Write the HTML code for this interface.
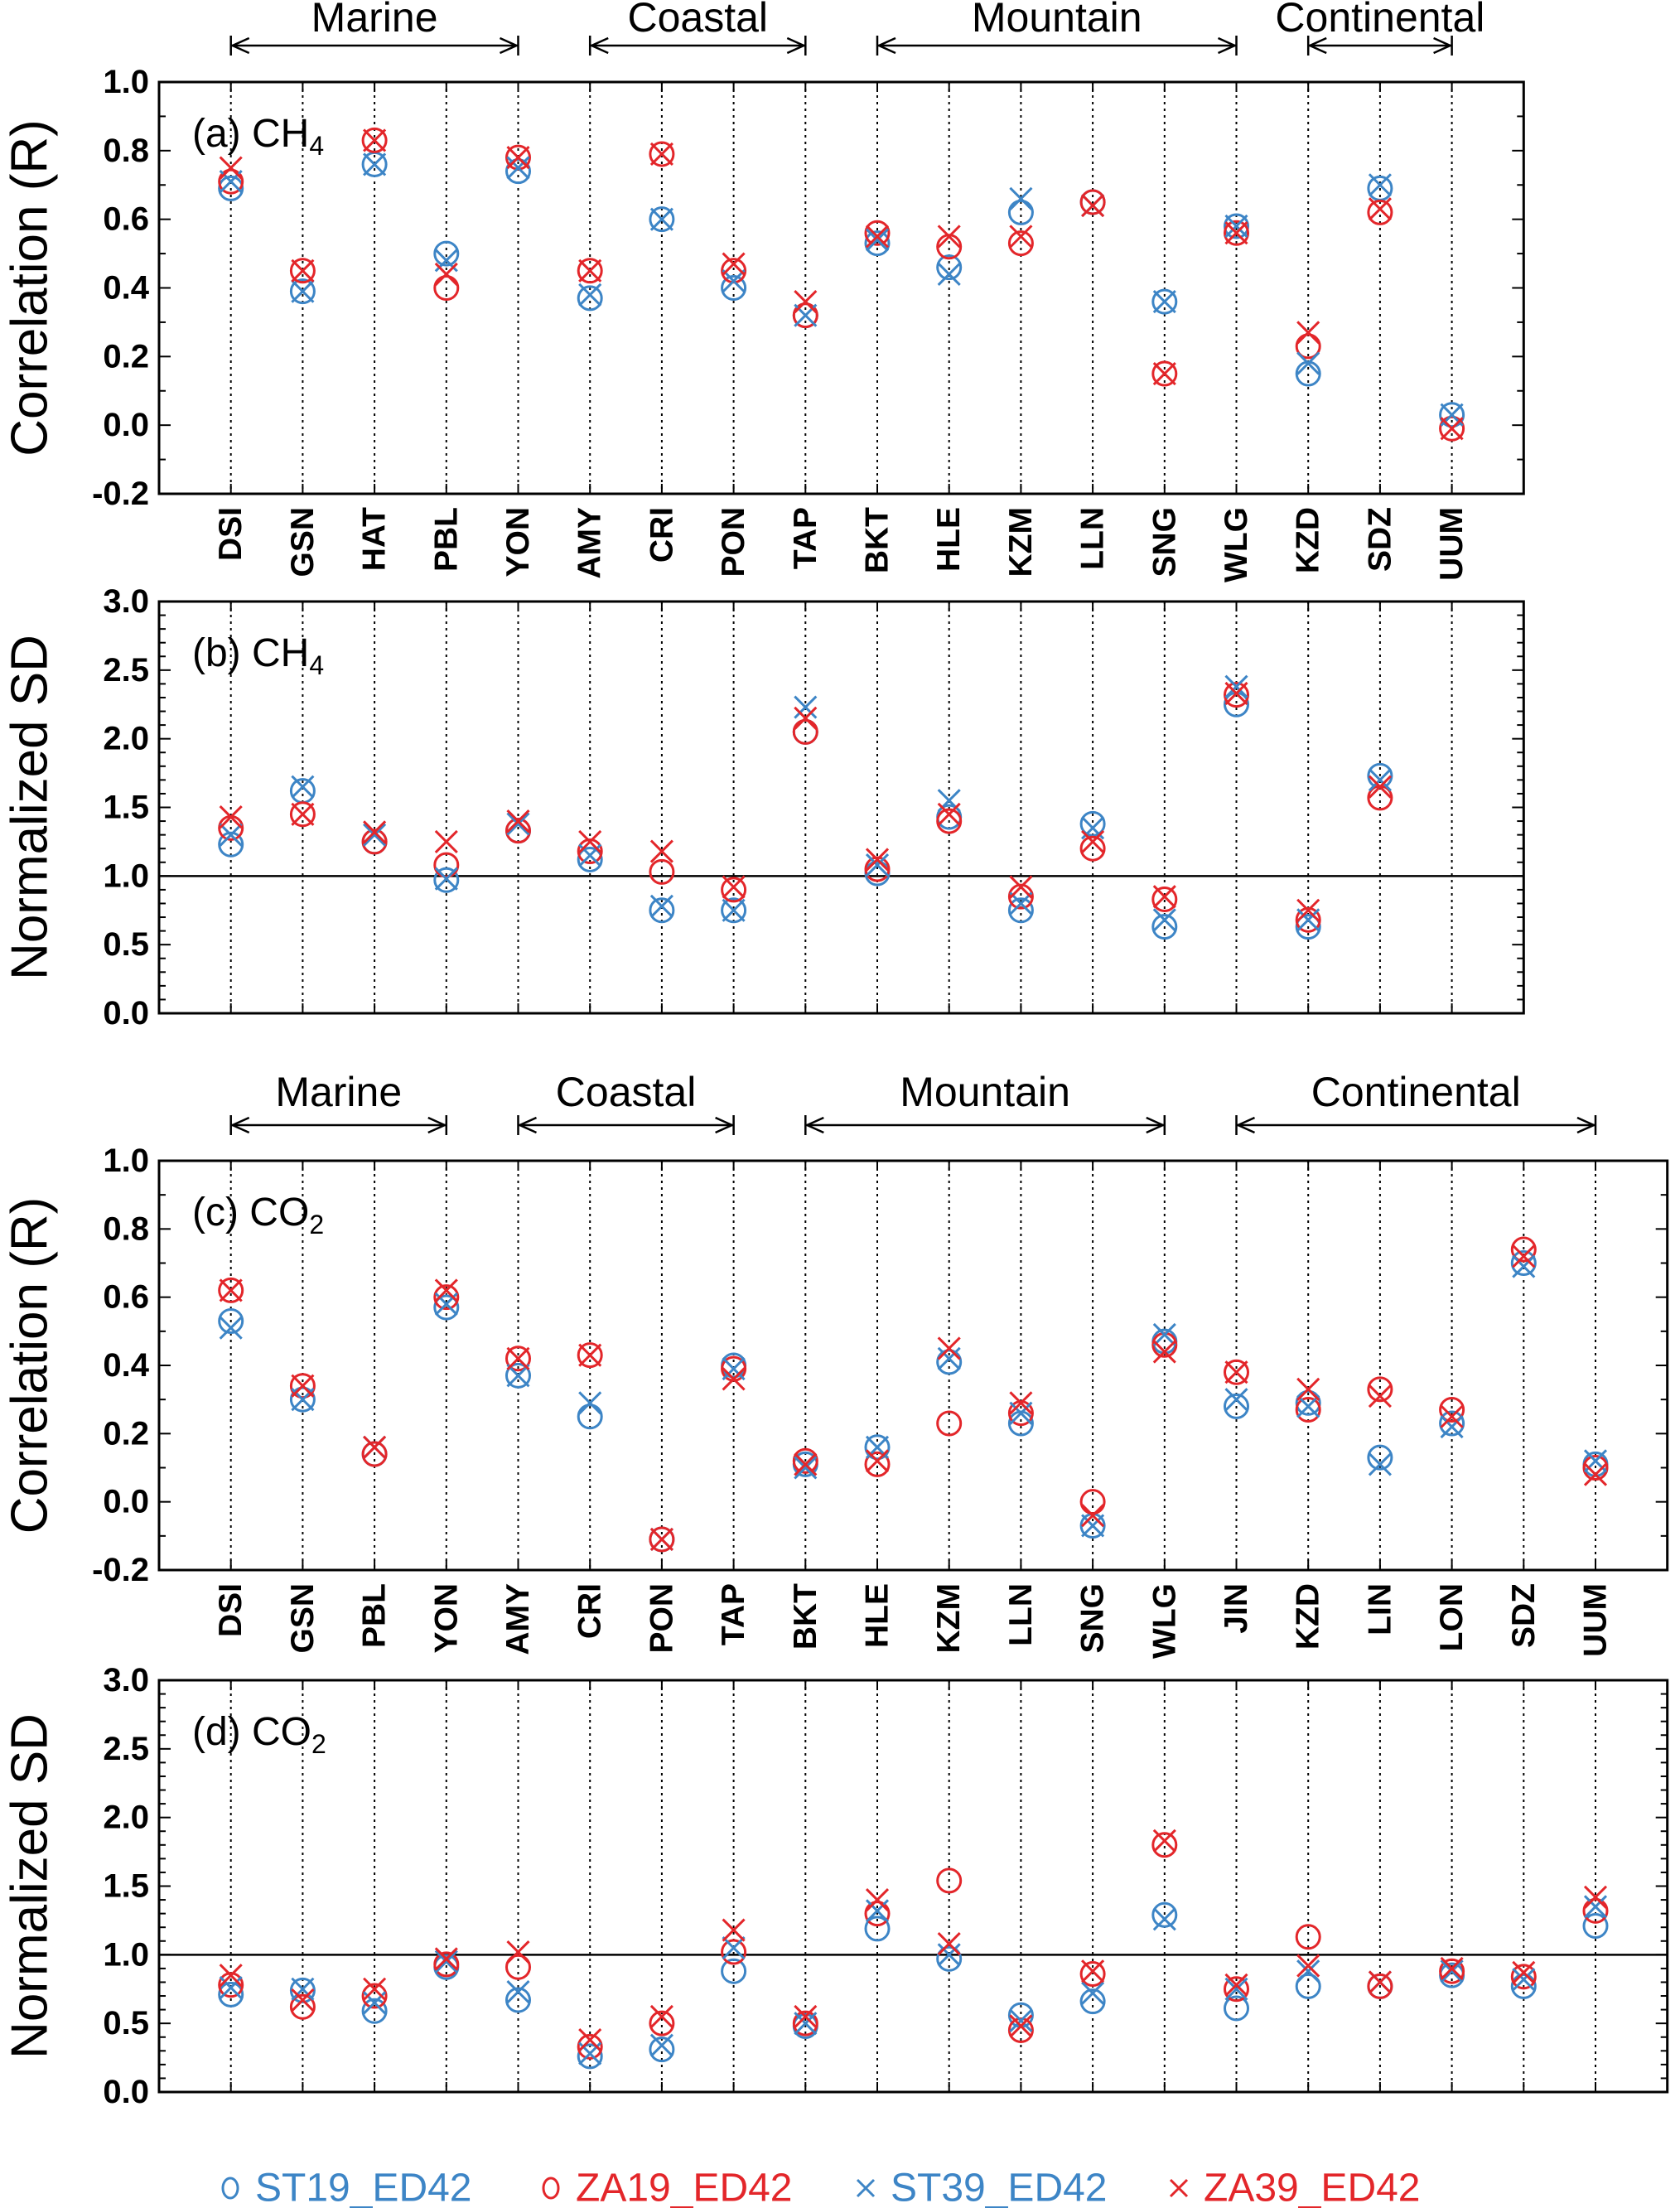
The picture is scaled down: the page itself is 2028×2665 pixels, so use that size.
<!DOCTYPE html>
<html><head><meta charset="utf-8">
<style>
html,body{margin:0;padding:0;background:#fff;}
svg{display:block;}
</style></head>
<body>
<svg id="chart" width="2028" height="2665" viewBox="0 0 2028 2665" xmlns="http://www.w3.org/2000/svg"></svg>
<script>
// ---------- data ----------
const stationsCH4 = ["DSI","GSN","HAT","PBL","YON","AMY","CRI","PON","TAP","BKT","HLE","KZM","LLN","SNG","WLG","KZD","SDZ","UUM"];
const stationsCO2 = ["DSI","GSN","PBL","YON","AMY","CRI","PON","TAP","BKT","HLE","KZM","LLN","SNG","WLG","JIN","KZD","LIN","LON","SDZ","UUM"];
const seriesNames = ["ST19_ED42","ZA19_ED42","ST39_ED42","ZA39_ED42"];
// panel (a) CH4 correlation
const aST19 = [0.69,0.39,0.76,0.50,0.74,0.37,0.60,0.40,0.32,0.53,0.46,0.62,0.65,0.36,0.58,0.15,0.69,0.03];
const aZA19 = [0.71,0.45,0.83,0.40,0.78,0.45,0.79,0.45,0.32,0.56,0.52,0.53,0.65,0.15,0.56,0.23,0.62,-0.01];
const aST39 = [0.71,0.39,0.76,0.48,0.75,0.38,0.60,0.42,0.32,0.54,0.44,0.66,0.64,0.36,0.58,0.18,0.70,0.03];
const aZA39 = [0.75,0.45,0.83,0.44,0.78,0.45,0.79,0.47,0.36,0.55,0.55,0.55,0.64,0.15,0.56,0.27,0.63,-0.01];
// panel (b) CH4 normalized SD (UUM missing)
const bST19 = [1.23,1.62,1.25,0.97,1.33,1.12,0.75,0.75,2.05,1.02,1.43,0.75,1.38,0.63,2.25,0.63,1.73,null];
const bZA19 = [1.35,1.45,1.25,1.08,1.33,1.18,1.03,0.90,2.05,1.05,1.40,0.85,1.20,0.83,2.32,0.68,1.57,null];
const bST39 = [1.30,1.65,1.30,0.98,1.38,1.15,0.78,0.75,2.23,1.08,1.55,0.80,1.35,0.68,2.38,0.68,1.70,null];
const bZA39 = [1.43,1.45,1.32,1.25,1.40,1.25,1.18,0.92,2.15,1.12,1.45,0.92,1.25,0.85,2.33,0.75,1.65,null];
// panel (c) CO2 correlation
const cST19 = [0.53,0.30,0.14,0.57,0.37,0.25,-0.11,0.40,0.11,0.16,0.41,0.23,-0.07,0.47,0.28,0.29,0.13,0.23,0.70,0.11];
const cZA19 = [0.62,0.34,0.14,0.60,0.42,0.43,-0.11,0.39,0.12,0.11,0.23,0.26,0.00,0.46,0.38,0.27,0.33,0.27,0.74,0.10];
const cST39 = [0.51,0.30,0.16,0.58,0.37,0.29,-0.11,0.39,0.10,0.16,0.42,0.26,-0.07,0.49,0.30,0.28,0.11,0.22,0.69,0.12];
const cZA39 = [0.62,0.34,0.16,0.62,0.42,0.43,-0.11,0.36,0.11,0.12,0.45,0.29,-0.04,0.44,0.38,0.33,0.31,0.25,0.72,0.08];
// panel (d) CO2 normalized SD
const dST19 = [0.71,0.74,0.59,0.91,0.67,0.26,0.31,0.88,0.48,1.19,0.97,0.56,0.66,1.29,0.61,0.77,0.77,0.85,0.77,1.21];
const dZA19 = [0.78,0.62,0.70,0.93,0.91,0.33,0.50,1.02,0.50,1.30,1.54,0.45,0.86,1.80,0.75,1.13,0.77,0.88,0.84,1.32];
const dST39 = [0.76,0.75,0.65,0.95,0.73,0.28,0.34,1.05,0.50,1.32,1.00,0.52,0.72,1.26,0.75,0.88,0.80,0.88,0.82,1.35];
const dZA39 = [0.85,0.67,0.75,0.97,1.02,0.38,0.55,1.18,0.55,1.40,1.08,0.48,0.88,1.83,0.78,0.92,0.80,0.90,0.87,1.42];
const ticksR = [-0.2,0.0,0.2,0.4,0.6,0.8,1.0];
const ticksSD = [0.0,0.5,1.0,1.5,2.0,2.5,3.0];
const groupsCH4 = [["Marine","DSI","YON"],["Coastal","AMY","TAP"],["Mountain","BKT","WLG"],["Continental","KZD","UUM"]];
const groupsCO2 = [["Marine","DSI","YON"],["Coastal","AMY","TAP"],["Mountain","BKT","WLG"],["Continental","JIN","UUM"]];

// ---------- drawing ----------
const NS = "http://www.w3.org/2000/svg";
const svg = document.getElementById("chart");
const BLUE = "#3d85c6", RED = "#e3262a";
const colors = [BLUE, RED, BLUE, RED];
const shapes = ["o","o","x","x"];
const X0 = 192, STEP = 86.7;
function el(tag, attrs, parent){
  const e = document.createElementNS(NS, tag);
  for (const k in attrs) e.setAttribute(k, attrs[k]);
  (parent||svg).appendChild(e);
  return e;
}
function txt(s, attrs, parent){ const t = el("text", attrs, parent); t.textContent = s; return t; }

function panel(cfg){
  const g = el("g", {});
  
  
  const n = cfg.stations.length;
  const left = X0, right = X0 + (n+1)*STEP, top = cfg.top, bot = cfg.bot;
  const xs = i => left + (i+1)*STEP;
  const ys = v => bot - (v - cfg.min)/(cfg.max - cfg.min)*(bot-top);
  cfg.stations.forEach((s,i)=>{
    const l = el("line",{x1:xs(i),x2:xs(i),y1:top,y2:bot,stroke:"#000","stroke-width":2,"stroke-dasharray":"3,5"},g);
    
    
  });
  const minorStep = cfg.minor;
  for (let v = cfg.min; v <= cfg.max + 1e-9; v += minorStep){
    const y = ys(v);
    const isMajor = cfg.ticks.some(t=>Math.abs(t-v)<1e-6);
    const L = isMajor?14:8;
    el("line",{x1:left,x2:left+L,y1:y,y2:y,stroke:"#000","stroke-width":2},g);
    el("line",{x1:right,x2:right-L,y1:y,y2:y,stroke:"#000","stroke-width":2},g);
  }
  cfg.ticks.forEach(t=>{
    const lab = txt(t.toFixed(1),{x:left-12,y:ys(t),"text-anchor":"end","dominant-baseline":"central","font-family":"Liberation Sans Narrow, Liberation Sans, sans-serif","font-weight":"bold","font-size":40,fill:"#000"},g);
    
    
  });
  cfg.stations.forEach((s,i)=>{
    el("line",{x1:xs(i),x2:xs(i),y1:bot,y2:bot-12,stroke:"#000","stroke-width":2},g);
    el("line",{x1:xs(i),x2:xs(i),y1:top,y2:top+12,stroke:"#000","stroke-width":2},g);
  });
  if (cfg.refLine !== undefined){
    const rl = el("line",{x1:left,x2:right,y1:ys(cfg.refLine),y2:ys(cfg.refLine),stroke:"#000","stroke-width":2.5},g);
    
    
  }
  const fr = el("rect",{x:left,y:top,width:right-left,height:bot-top,fill:"none",stroke:"#000","stroke-width":3},g);
  
  
  if (cfg.xlabels){
    cfg.stations.forEach((s,i)=>{
      const t = txt(s,{x:0,y:0,transform:`translate(${xs(i)},${bot+16}) rotate(-90)`,"text-anchor":"end","dominant-baseline":"central","font-family":"Liberation Sans, sans-serif","font-weight":"bold","font-size":39,fill:"#000"},g);
      
      
    });
  }
  const yt = txt(cfg.ytitle,{x:0,y:0,transform:`translate(36,${(top+bot)/2}) rotate(-90)`,"text-anchor":"middle","dominant-baseline":"central","font-family":"Liberation Sans, sans-serif","font-size":62,fill:"#000"},g);
  
  
  const pl = txt("",{x:232,y:top+78,"font-family":"Liberation Sans Narrow, Liberation Sans, sans-serif","font-size":48,fill:"#000"},g);
  
  
  pl.textContent = cfg.label + " " + cfg.gas;
  const sub = el("tspan",{"font-size":32,dy:10},pl); sub.textContent = cfg.sub;
  cfg.series.forEach((arr,si)=>{
    arr.forEach((v,i)=>{
      if (v === null || v === undefined) return;
      const cx = xs(i), cy = ys(v);
      let m;
      if (shapes[si]==="o"){
        m = el("circle",{cx:cx,cy:cy,r:14,fill:"none",stroke:colors[si],"stroke-width":3},g);
      } else {
        const r = 13;
        m = el("path",{d:`M${cx-r},${cy-r}L${cx+r},${cy+r}M${cx-r},${cy+r}L${cx+r},${cy-r}`,fill:"none",stroke:colors[si],"stroke-width":3},g);
      }
      
      
    });
  });
  return {xs, ys};
}

function groups(list, stations, labelY, arrowY){
  const xs = i => X0 + (i+1)*STEP;
  list.forEach(([name,a,b])=>{
    const g = el("g",{});
    
    
    const x1 = xs(stations.indexOf(a)), x2 = xs(stations.indexOf(b));
    el("line",{x1:x1,x2:x2,y1:arrowY,y2:arrowY,stroke:"#000","stroke-width":2.5},g);
    el("line",{x1:x1,x2:x1,y1:arrowY-12,y2:arrowY+12,stroke:"#000","stroke-width":2.5},g);
    el("line",{x1:x2,x2:x2,y1:arrowY-12,y2:arrowY+12,stroke:"#000","stroke-width":2.5},g);
    el("path",{d:`M${x1+22},${arrowY-9}L${x1+2},${arrowY}L${x1+22},${arrowY+9}M${x2-22},${arrowY-9}L${x2-2},${arrowY}L${x2-22},${arrowY+9}`,fill:"none",stroke:"#000","stroke-width":2.5},g);
    txt(name,{x:(x1+x2)/2,y:labelY,"text-anchor":"middle","font-family":"Liberation Sans, sans-serif","font-size":50,fill:"#000"},g);
  });
}

groups(groupsCH4, stationsCH4, 38, 55);
panel({name:"panel-a-ch4-correlation",stations:stationsCH4,top:99,bot:596,min:-0.2,max:1.0,minor:0.1,ticks:ticksR,ytitle:"Correlation (R)",label:"(a)",gas:"CH",sub:"4",series:[aST19,aZA19,aST39,aZA39],xlabels:true});
panel({name:"panel-b-ch4-sd",stations:stationsCH4,top:726,bot:1223,min:0,max:3.0,minor:0.1,ticks:ticksSD,ytitle:"Normalized SD",label:"(b)",gas:"CH",sub:"4",series:[bST19,bZA19,bST39,bZA39],refLine:1.0});
groups(groupsCO2, stationsCO2, 1335, 1358);
panel({name:"panel-c-co2-correlation",stations:stationsCO2,top:1401,bot:1895,min:-0.2,max:1.0,minor:0.1,ticks:ticksR,ytitle:"Correlation (R)",label:"(c)",gas:"CO",sub:"2",series:[cST19,cZA19,cST39,cZA39],xlabels:true});
panel({name:"panel-d-co2-sd",stations:stationsCO2,top:2028,bot:2525,min:0,max:3.0,minor:0.1,ticks:ticksSD,ytitle:"Normalized SD",label:"(d)",gas:"CO",sub:"2",series:[dST19,dZA19,dST39,dZA39],refLine:1.0});

const legX = [278, 665, 1045, 1423];
seriesNames.forEach((s,i)=>{
  const g = el("g",{});
  
  
  const cx = legX[i], cy = 2641;
  if (shapes[i]==="o") el("ellipse",{cx:cx,cy:cy,rx:9,ry:12,fill:"none",stroke:colors[i],"stroke-width":3},g);
  else el("path",{d:`M${cx-10},${cy-10}L${cx+10},${cy+10}M${cx-10},${cy+10}L${cx+10},${cy-10}`,fill:"none",stroke:colors[i],"stroke-width":3},g);
  txt(s,{x:cx+30,y:cy,"dominant-baseline":"central","font-family":"Liberation Sans, sans-serif","font-size":48,fill:colors[i]},g);
});
</script>
</body></html>
